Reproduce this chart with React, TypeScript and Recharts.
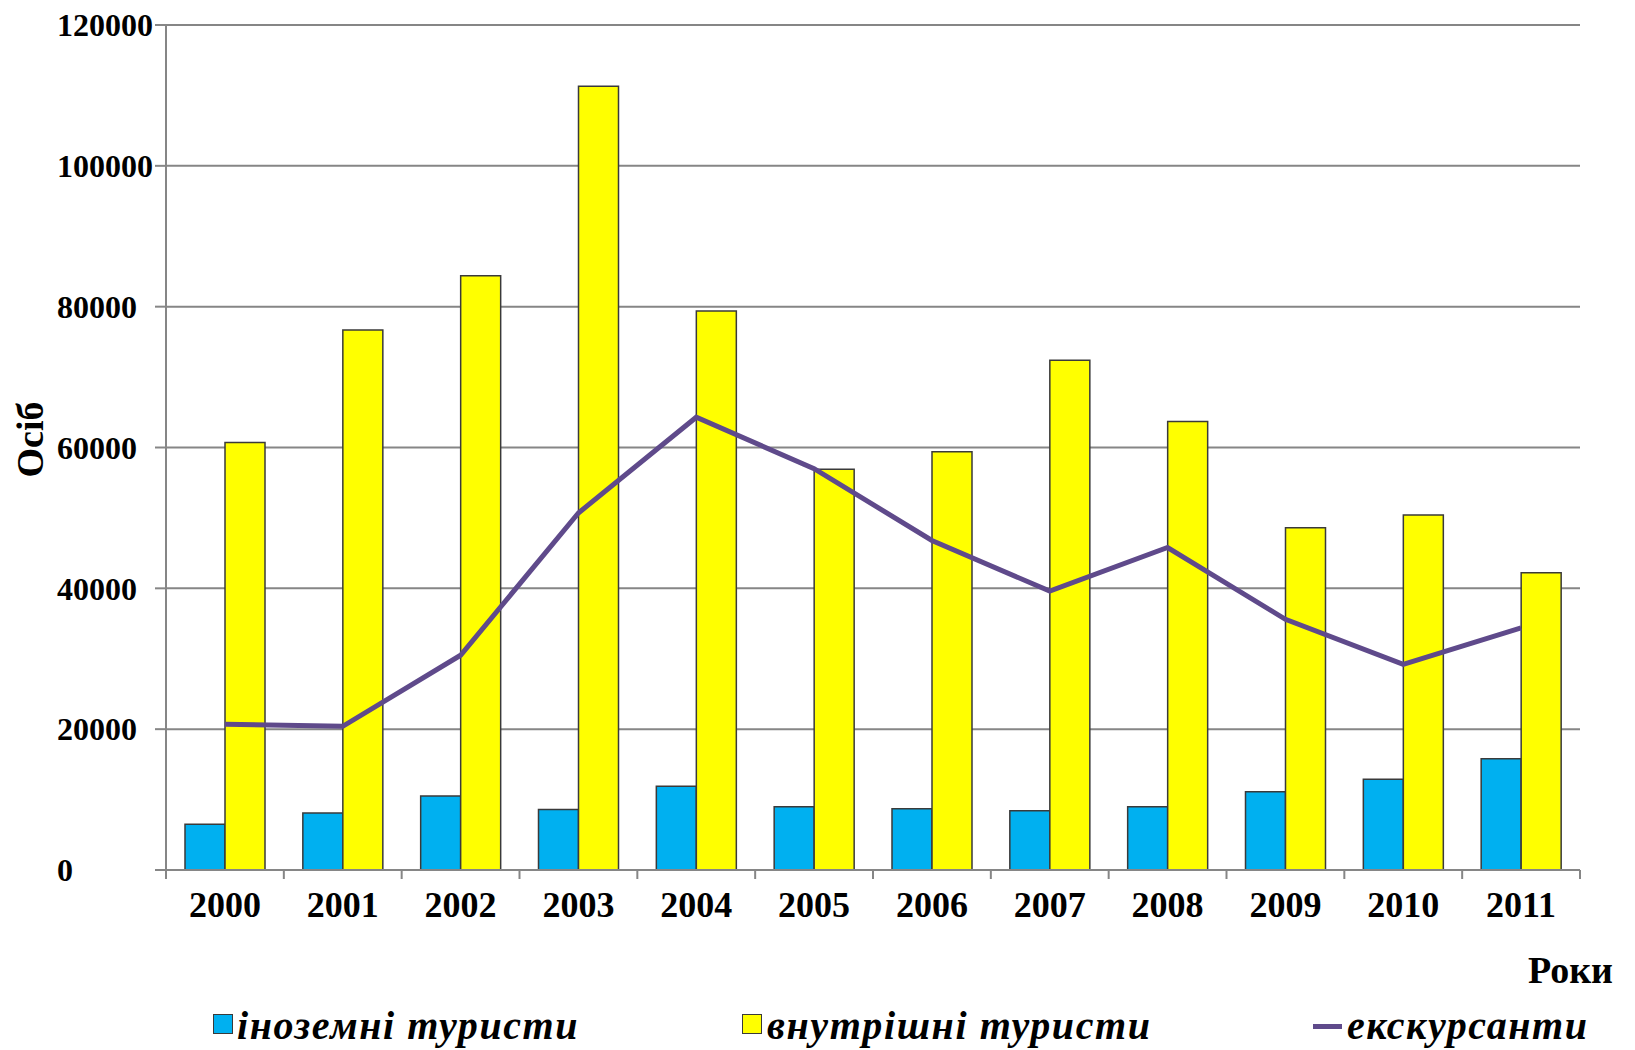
import React from 'react';
import { ComposedChart, Bar, Line, XAxis, YAxis, CartesianGrid, Legend, Label } from 'recharts';

const years = ['2000', '2001', '2002', '2003', '2004', '2005', '2006', '2007', '2008', '2009', '2010', '2011'];
const foreignTourists = [6500, 8100, 10500, 8600, 11900, 9000, 8700, 8400, 9000, 11100, 12900, 15800];
const domesticTourists = [60700, 76700, 84400, 111300, 79400, 56900, 59400, 72400, 63700, 48600, 50400, 42200];
const excursionists = [20700, 20400, 30500, 50700, 64300, 57000, 46800, 39600, 45800, 35600, 29200, 34400];
const yTicks = [0, 20000, 40000, 60000, 80000, 100000, 120000];

const seriesNames = {
  foreign: 'іноземні туристи',
  domestic: 'внутрішні туристи',
  excursion: 'екскурсанти',
};
const yAxisTitle = 'Осіб';
const xAxisTitle = 'Роки';

const data = years.map((year, i) => ({
  year,
  foreign: foreignTourists[i],
  domestic: domesticTourists[i],
  excursion: excursionists[i],
}));

const FONT = '"Liberation Serif", "Times New Roman", serif';
const GRID = '#868686';
const BLUE = '#00B0F0';
const YELLOW = '#FFFF00';
const PURPLE = '#5F4A8B';
const BAR_STROKE = '#3a3a3a';

const XTick = (props: any) => {
  const { x, y, payload, index, width, visibleTicksCount } = props;
  let band = width && visibleTicksCount ? width / visibleTicksCount : 0;
  if (!band && payload && payload.offset) band = payload.offset * 2;
  return (
    <g>
      <line x1={x - band / 2} x2={x - band / 2} y1={y} y2={y + 9} stroke={GRID} strokeWidth={2} />
      {index === visibleTicksCount - 1 && (
        <line x1={x + band / 2} x2={x + band / 2} y1={y} y2={y + 9} stroke={GRID} strokeWidth={2} />
      )}
      <text x={x} y={y + 47} textAnchor="middle" fontFamily={FONT} fontWeight="bold" fontSize={36} fill="#000">
        {payload.value}
      </text>
    </g>
  );
};

const YTick = (props: any) => {
  const { y, payload } = props;
  return (
    <text x={49} y={y} dy="0.35em" textAnchor="start" fontFamily={FONT} fontWeight="bold" fontSize={32} fill="#000">
      {payload.value}
    </text>
  );
};

const LegendContent = () => (
  <div
    style={{
      position: 'relative',
      width: 1627,
      height: 40,
      fontFamily: FONT,
      fontStyle: 'italic',
      fontWeight: 'bold',
      fontSize: 40,
      lineHeight: '40px',
      letterSpacing: '1.6px',
      color: '#000',
    }}
  >
    <span style={{ position: 'absolute', left: 205, top: 8, width: 20, height: 20, background: BLUE, border: `1.5px solid ${BAR_STROKE}`, boxSizing: 'border-box' }} />
    <span style={{ position: 'absolute', left: 229, top: 0, whiteSpace: 'nowrap' }}>{seriesNames.foreign}</span>
    <span style={{ position: 'absolute', left: 734, top: 8, width: 20, height: 20, background: YELLOW, border: `1.5px solid ${BAR_STROKE}`, boxSizing: 'border-box' }} />
    <span style={{ position: 'absolute', left: 759, top: 0, whiteSpace: 'nowrap' }}>{seriesNames.domestic}</span>
    <span style={{ position: 'absolute', left: 1305, top: 18, width: 29, height: 5, background: PURPLE }} />
    <span style={{ position: 'absolute', left: 1339, top: 0, whiteSpace: 'nowrap' }}>{seriesNames.excursion}</span>
  </div>
);

export default function App() {
  return (
    <div style={{ width: 1627, height: 1042 }}>
      <ComposedChart
        width={1627}
        height={1042}
        data={data}
        margin={{ top: 17, right: 55, left: 0, bottom: 120 }}
        barGap={0}
        barSize={40}
      >
        <CartesianGrid vertical={false} stroke={GRID} strokeWidth={2} />
        <XAxis
          dataKey="year"
          interval={0}
          height={60}
          tickSize={0}
          tickMargin={0}
          tickLine={false}
          axisLine={{ stroke: GRID, strokeWidth: 2 }}
          tick={<XTick />}
        >
          <Label
            content={(p: any) => {
              const vb = p.viewBox || { x: 158, y: 862, width: 1414, height: 60 };
              return (
                <text x={vb.x + vb.width + 33} y={vb.y + 113} textAnchor="end" fontFamily={FONT} fontWeight="bold" fontSize={38} fill="#000">
                  {xAxisTitle}
                </text>
              );
            }}
          />
        </XAxis>
        <YAxis
          width={158}
          domain={[0, 120000]}
          ticks={yTicks}
          interval={0}
          tickSize={11}
          tickLine={{ stroke: GRID, strokeWidth: 2 }}
          axisLine={{ stroke: GRID, strokeWidth: 2 }}
          tick={<YTick />}
        >
          <Label
            content={(p: any) => {
              const vb = p.viewBox || { x: 0, y: 17, width: 158, height: 845 };
              const cy = vb.y + vb.height / 2 - 8;
              return (
                <text transform={`translate(35, ${cy}) rotate(-90)`} textAnchor="middle" fontFamily={FONT} fontWeight="bold" fontSize={38} fill="#000">
                  {yAxisTitle}
                </text>
              );
            }}
          />
        </YAxis>
        <Bar dataKey="foreign" name={seriesNames.foreign} fill={BLUE} stroke={BAR_STROKE} strokeWidth={1.5} isAnimationActive={false} />
        <Bar dataKey="domestic" name={seriesNames.domestic} fill={YELLOW} stroke={BAR_STROKE} strokeWidth={1.5} isAnimationActive={false} />
        <Line
          dataKey="excursion"
          name={seriesNames.excursion}
          type="linear"
          stroke={PURPLE}
          strokeWidth={5}
          dot={false}
          activeDot={false}
          isAnimationActive={false}
        />
        <Legend
          layout="horizontal"
          verticalAlign="middle"
          align="center"
          wrapperStyle={{ top: 998, left: 0, width: 1627 }}
          content={<LegendContent />}
        />
      </ComposedChart>
    </div>
  );
}
